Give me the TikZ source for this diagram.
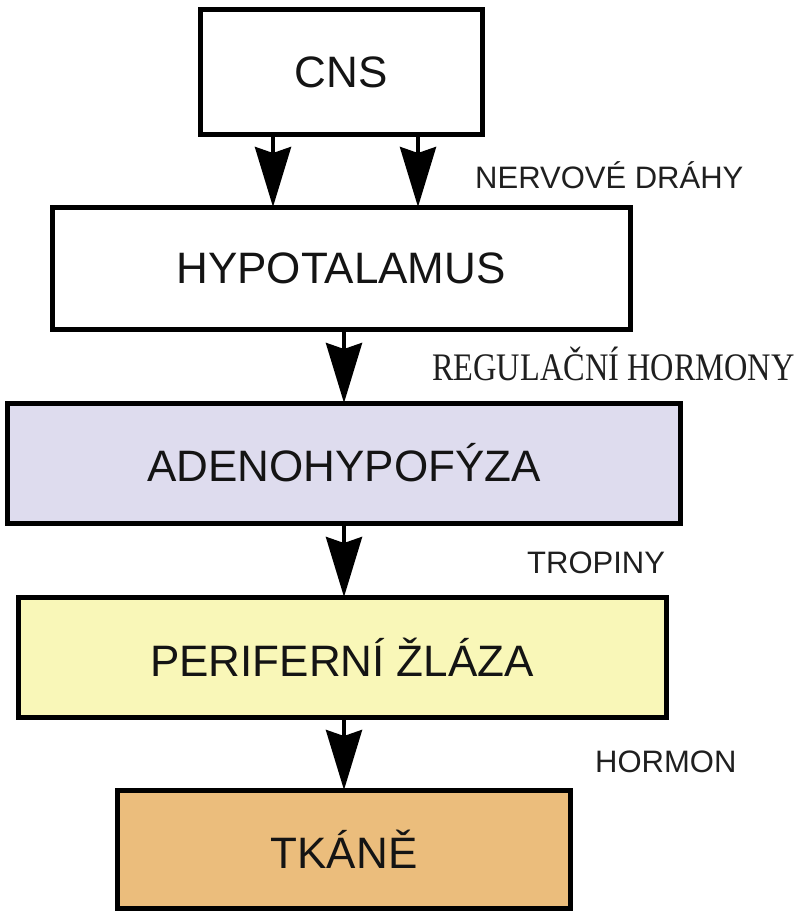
\documentclass[tikz,border=0pt]{standalone}
\usepackage{fontspec}
\setmainfont{Liberation Sans}
\newfontfamily\labserif{Liberation Serif}
\usetikzlibrary{arrows.meta}
\definecolor{adenofill}{HTML}{DEDCEE}
\definecolor{periffill}{HTML}{F9F7B8}
\definecolor{tkanefill}{HTML}{EBBD7C}
\tikzset{
  box/.style={draw=black, line width=5pt, rectangle, inner sep=0pt, outer sep=0pt,
    font=\fontsize{44}{48}\selectfont, text=black!92},
  arr/.style={line width=4pt, -{Stealth[length=60pt, width=36pt, inset=6pt]}},
  lab/.style={anchor=base west, inner sep=0pt, font=\fontsize{31}{34}\selectfont, text=black!88},
}
\begin{document}
\begin{tikzpicture}[x=1pt, y=-1pt]
\useasboundingbox (0,0) rectangle (797,914);
\node[box, fill=white, minimum width=282pt, minimum height=125pt] (cns) at (341,72) {CNS};
\node[box, fill=white, minimum width=578pt, minimum height=122pt] (hyp) at (341,268) {HYPOTALAMUS};
\node[box, fill=adenofill, minimum width=673pt, minimum height=120pt] (ade) at (344,463) {ADENOHYPOFÝZA};
\node[box, fill=periffill, minimum width=648pt, minimum height=120pt] (per) at (342,657) {PERIFERNÍ ŽLÁZA};
\node[box, fill=tkanefill, minimum width=453pt, minimum height=118pt] (tka) at (344,849) {TKÁNĚ};

\coordinate (a1) at (273,0);
\coordinate (a2) at (418,0);
\coordinate (a3) at (344,0);
\draw[arr] (cns.south -| a1) -- (hyp.north -| a1);
\draw[arr] (cns.south -| a2) -- (hyp.north -| a2);
\draw[arr] (hyp.south -| a3) -- (ade.north -| a3);
\draw[arr] (ade.south -| a3) -- (per.north -| a3);
\draw[arr] (per.south -| a3) -- (tka.north -| a3);

\node[lab] (l1) at (475,188) {NERVOVÉ DRÁHY};
\node[lab, font=\labserif\fontsize{39}{40}\selectfont, xscale=0.83] (l2) at (432,380) {REGULAČNÍ HORMONY};
\node[lab] (l3) at (527,573) {TROPINY};
\node[lab] (l4) at (595,772) {HORMON};
\end{tikzpicture}
\end{document}
